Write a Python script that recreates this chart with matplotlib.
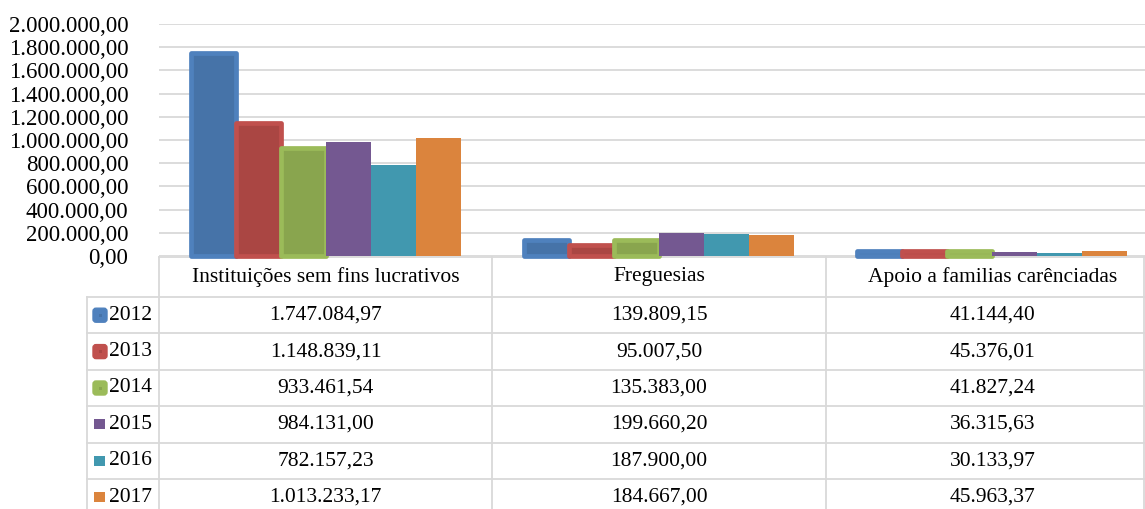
import matplotlib
matplotlib.use("Agg")
import matplotlib.pyplot as plt
from matplotlib.patches import FancyBboxPatch, Rectangle
from matplotlib.ticker import FuncFormatter

# dados
categorias = ["Instituições sem fins lucrativos", "Freguesias", "Apoio a familias carênciadas"]
anos = ["2012", "2013", "2014", "2015", "2016", "2017"]
v2012 = [1747084.97, 139809.15, 41144.40]
v2013 = [1148839.11, 95007.50, 45376.01]
v2014 = [933461.54, 135383.00, 41827.24]
v2015 = [984131.00, 199660.20, 36315.63]
v2016 = [782157.23, 187900.00, 30133.97]
v2017 = [1013233.17, 184667.00, 45963.37]
series = [v2012, v2013, v2014, v2015, v2016, v2017]

cores = ["#4673A8", "#AA4643", "#89A54E", "#745891", "#4198AF", "#DB843D"]
bordas = ["#4F81BD", "#C0504D", "#9BBB59", None, None, None]

plt.rcParams['font.family'] = ['Liberation Serif', 'DejaVu Serif']

W, H = 1145, 509
fig = plt.figure(figsize=(W / 100, H / 100), dpi=100)


def fmt_pt(v, pos=None):
    s = f"{v:,.2f}"
    return s.replace(",", "X").replace(".", ",").replace("X", ".")


# area do grafico (em pixels)
x0, x1 = 159, 1159
y_top, y_zero = 24, 256
ax = fig.add_axes([x0 / W, 1 - y_zero / H, (x1 - x0) / W, (y_zero - y_top) / H])

n = len(series)
larg = 0.135
for i, vals in enumerate(series):
    xs = [c + (i - (n - 1) / 2) * larg for c in range(len(categorias))]
    if bordas[i]:
        ax.bar(xs, vals, width=larg, color=cores[i], edgecolor=bordas[i],
               linewidth=3.4, joinstyle='round', clip_on=False, zorder=3)
    else:
        ax.bar(xs, vals, width=larg, color=cores[i], linewidth=0, zorder=3)

ax.set_xlim(-0.5, 2.5)
ax.set_ylim(0, 2000000)
ax.set_yticks(range(0, 2000001, 200000))
ax.yaxis.set_major_formatter(FuncFormatter(fmt_pt))
ax.tick_params(axis='y', length=0, pad=22, labelsize=16.5)
ax.tick_params(axis='x', length=0, labelbottom=False)
ax.grid(axis='y', color='#D9D9D9', linewidth=1.3, zorder=0)
for s in ax.spines.values():
    s.set_visible(False)

# tabela de dados
tb = fig.add_axes([0, 0, 1, 1], zorder=-1)
tb.set_xlim(0, W)
tb.set_ylim(H, 0)
tb.axis('off')

linha = dict(color='#D9D9D9', linewidth=1.3)
col_x = [159, 492, 826, 1159]
cab_top, cab_bot = 257, 297
alt = 36.4
linhas_y = [cab_bot + k * alt for k in range(len(anos) + 1)]

tb.plot([159, W], [cab_top, cab_top], **linha)
for y in linhas_y:
    tb.plot([87, W], [y, y], **linha)
tb.plot([87, 87], [cab_bot, H], **linha)
for x in col_x[:-1]:
    tb.plot([x, x], [cab_top, H], **linha)
tb.plot([W - 1, W - 1], [cab_top, H], **linha)

centros = [(col_x[k] + col_x[k + 1]) / 2 for k in range(len(categorias))]
for c, nome in zip(centros, categorias):
    tb.text(c, (cab_top + cab_bot) / 2, nome, ha='center', va='center', fontsize=15.5)

for i, (ano, vals) in enumerate(zip(anos, series)):
    yc = linhas_y[i] + alt / 2
    if bordas[i]:
        tb.add_patch(FancyBboxPatch((93, yc - 7), 14, 14, boxstyle="round,pad=0,rounding_size=3",
                                    facecolor=bordas[i], edgecolor=bordas[i], linewidth=1))
        tb.add_patch(Rectangle((98.5, yc - 1.5), 3, 3, facecolor=cores[i], linewidth=0))
    else:
        tb.add_patch(Rectangle((94, yc - 5), 11, 10, facecolor=cores[i], linewidth=0))
    tb.text(109, yc, ano, ha='left', va='center', fontsize=15.5)
    for c, v in zip(centros, vals):
        tb.text(c, yc, fmt_pt(v), ha='center', va='center', fontsize=15.5)

fig.savefig("out.png", dpi=100)
